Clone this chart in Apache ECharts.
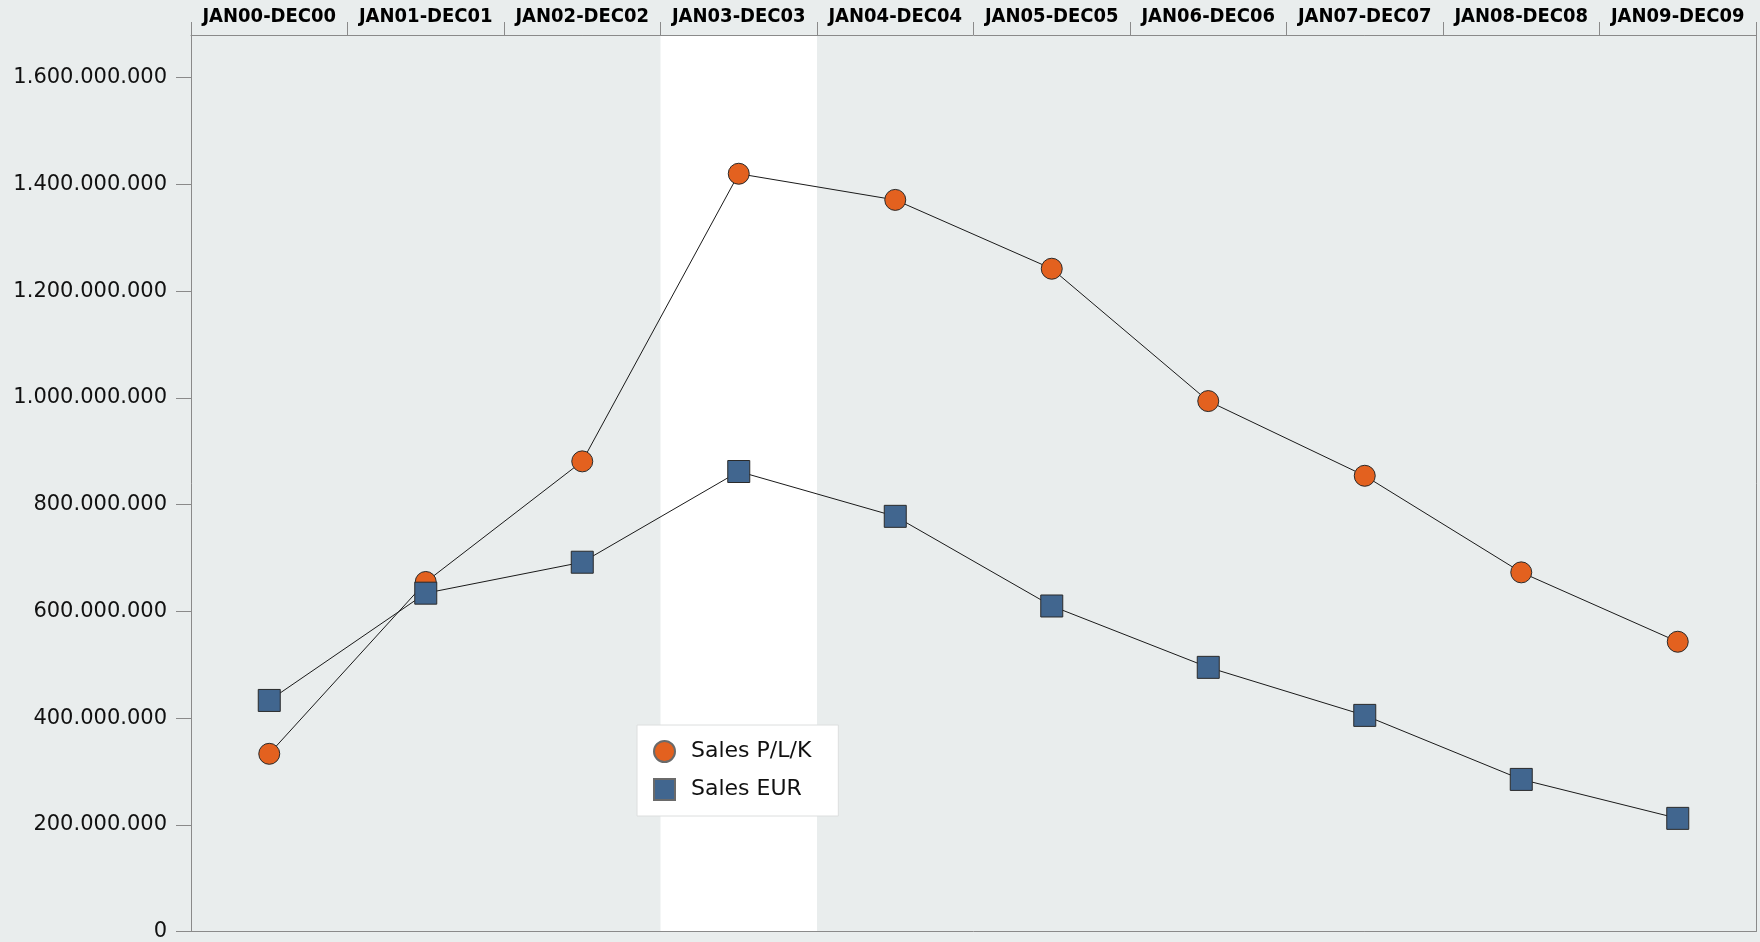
<!DOCTYPE html>
<html>
<head>
<meta charset="utf-8">
<script src="https://cdn.jsdelivr.net/npm/echarts@6/dist/echarts.min.js"></script>
<style>
html,body{margin:0;padding:0;background:#e9eded;}
#chart{width:1760px;height:942px;}
</style>
</head>
<body>
<div id="chart"></div>
<script>
const categories = ['JAN00-DEC00','JAN01-DEC01','JAN02-DEC02','JAN03-DEC03','JAN04-DEC04','JAN05-DEC05','JAN06-DEC06','JAN07-DEC07','JAN08-DEC08','JAN09-DEC09'];
const salesPLK = [333000000, 655000000, 881000000, 1420000000, 1371000000, 1242000000, 994000000, 854000000, 673000000, 543000000];
const salesEUR = [433000000, 634000000, 692000000, 862000000, 778000000, 610000000, 495000000, 405000000, 285000000, 212000000];
const yTicks = [0, 200000000, 400000000, 600000000, 800000000, 1000000000, 1200000000, 1400000000, 1600000000];
const yMax = 1680000000;
const highlightIndex = 3;
const seriesNames = ['Sales P/L/K', 'Sales EUR'];

const highlight = categories.map((c, i) => i === highlightIndex ? yMax : null);
const fmt = v => String(v).replace(/\B(?=(\d{3})+(?!\d))/g, '.');
const axisGray = '#8a8a8a';

const chart = echarts.init(document.getElementById('chart'));
chart.setOption({
  backgroundColor: '#e9eded',
  animation: false,
  grid: { left: 191, right: 4, top: 35, bottom: 9, show: false },
  legend: {
    orient: 'vertical',
    left: 637, top: 725,
    backgroundColor: '#ffffff',
    borderColor: '#dcdede', borderWidth: 1,
    padding: [15, 27, 15, 16],
    itemGap: 15,
    itemWidth: 21, itemHeight: 21,
    textStyle: { fontFamily: 'DejaVu Sans', fontSize: 22, color: '#111', padding: [0, 0, 0, 11] },
    data: [{ name: seriesNames[0], icon: 'circle', itemStyle: { borderColor: '#6a6a6a' } },
           { name: seriesNames[1], icon: 'rect', itemStyle: { borderColor: '#6a6a6a' } }]
  },
  xAxis: [{
    type: 'category', data: categories, position: 'top', z: 5,
    axisLine: { onZero: false, lineStyle: { color: axisGray, width: 1 } },
    axisTick: { show: true, length: 13, interval: 0, lineStyle: { color: axisGray } },
    axisLabel: { interval: 0, margin: 8, fontFamily: '"DejaVu Sans Condensed", "DejaVu Sans"', fontWeight: 'bold', fontSize: 20, color: '#000' },
    splitLine: { show: false }
  }, {
    type: 'category', data: categories, position: 'bottom', z: 5,
    axisLine: { onZero: false, lineStyle: { color: axisGray, width: 1 } },
    axisTick: { show: false }, axisLabel: { show: false }, splitLine: { show: false }
  }],
  yAxis: [{
    type: 'value', min: 0, max: yMax, position: 'left', z: 5,
    axisLine: { show: true, lineStyle: { color: axisGray } },
    axisTick: { show: true, length: 15, customValues: yTicks, lineStyle: { color: axisGray } },
    axisLabel: { margin: 24, customValues: yTicks, formatter: fmt, fontFamily: 'DejaVu Sans', fontSize: 21, color: '#111' },
    splitLine: { show: false }
  }, {
    type: 'value', min: 0, max: yMax, position: 'right', z: 5,
    axisLine: { show: true, lineStyle: { color: axisGray } },
    axisTick: { show: false }, axisLabel: { show: false }, splitLine: { show: false }
  }],
  series: [{
    type: 'bar', name: 'highlight', data: highlight, barWidth: '100%', silent: true,
    itemStyle: { color: '#ffffff' }, z: 1
  }, {
    type: 'line', name: seriesNames[0], data: salesPLK,
    symbol: 'circle', symbolSize: 21,
    lineStyle: { color: '#1a1a1a', width: 1 },
    itemStyle: { color: '#e3611f', borderColor: '#2a2a2a', borderWidth: 1 },
    z: 3
  }, {
    type: 'line', name: seriesNames[1], data: salesEUR,
    symbol: 'rect', symbolSize: 22,
    lineStyle: { color: '#1a1a1a', width: 1 },
    itemStyle: { color: '#41668f', borderColor: '#2a2a2a', borderWidth: 1 },
    z: 4
  }]
});
</script>
</body>
</html>
